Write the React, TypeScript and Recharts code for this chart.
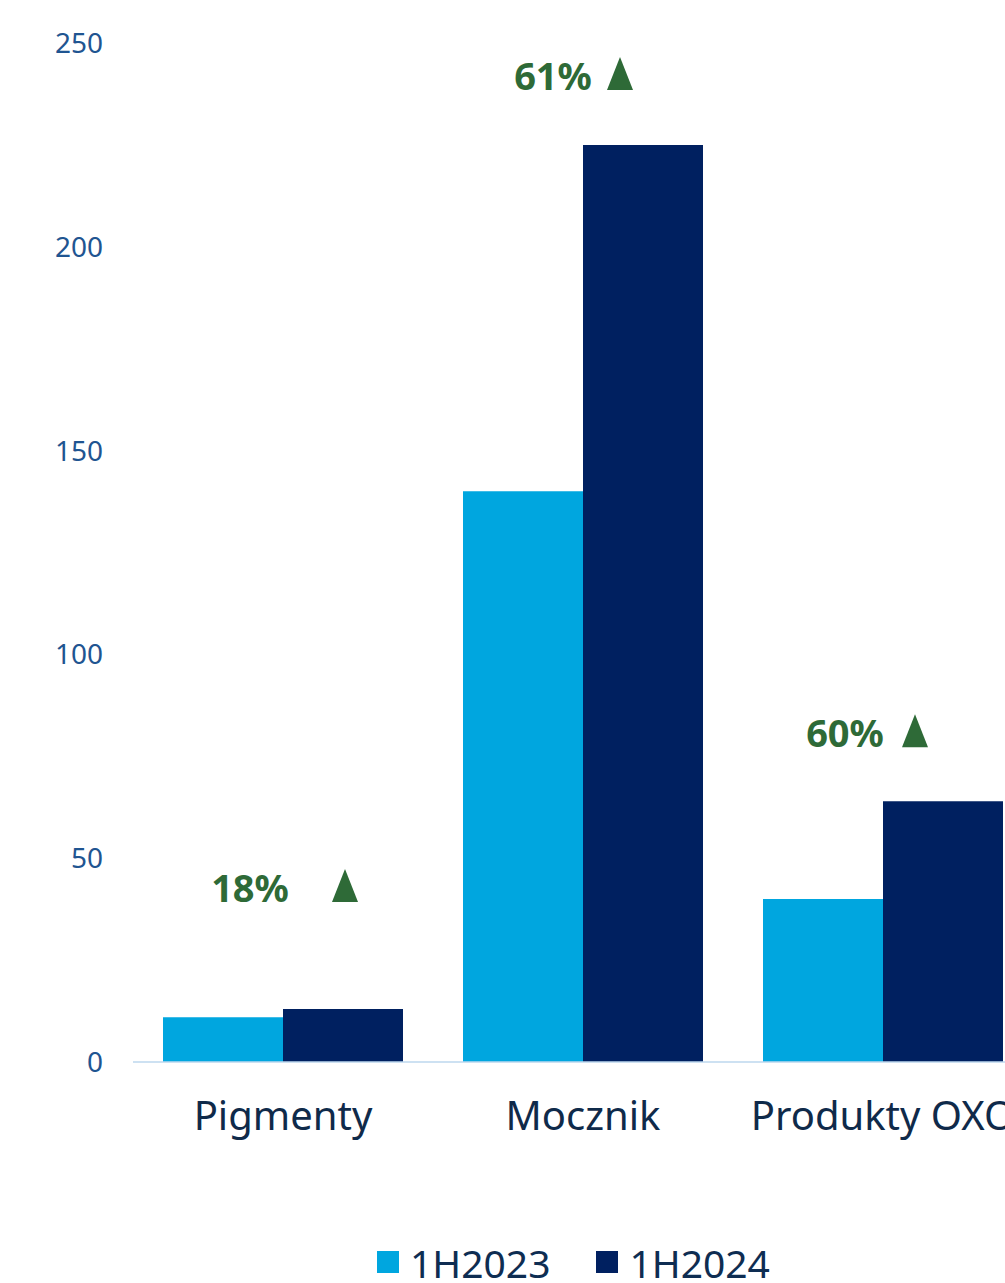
import { BarChart, Bar, XAxis, YAxis, Legend, LabelList } from 'recharts';

const categories = ['Pigmenty', 'Mocznik', 'Produkty OXO'];
const values2023 = [11, 140, 40];
const values2024 = [13, 225, 64];
const growthLabels = ['18%', '61%', '60%'];
const yTicks = [0, 50, 100, 150, 200, 250];

const data = categories.map((cat, i) => ({
  cat,
  h2023: values2023[i],
  h2024: values2024[i],
  growth: growthLabels[i],
}));

const LIGHT = '#00A6DF';
const DARK = '#002060';
const GREEN = '#2E6A37';
const FONT = '"Noto Sans", sans-serif';

// per-category placement of the growth annotation (relative to category centre / bar top)
const labelOffsets = [
  { text: -33, tri: 62, rise: 107 },
  { text: -30, tri: 37, rise: 55 },
  { text: -38, tri: 32, rise: 54 },
];

const GrowthLabel = (props: any) => {
  const { x, y, index, value } = props;
  const o = labelOffsets[index] || labelOffsets[0];
  const base = y - o.rise;
  const tx = x + o.tri;
  return (
    <g>
      <text
        x={x + o.text}
        y={base}
        textAnchor="middle"
        fill={GREEN}
        fontFamily={FONT}
        fontWeight="bold"
        fontSize={38}
      >
        {value}
      </text>
      <path d={`M${tx - 13},${base} L${tx + 13},${base} L${tx},${base - 33} Z`} fill={GREEN} />
    </g>
  );
};

const LegendContent = () => (
  <div
    style={{
      display: 'flex',
      alignItems: 'center',
      paddingLeft: 377,
      paddingTop: 38,
      boxSizing: 'border-box',
      height: 80,
      fontFamily: FONT,
    }}
  >
    {[
      { name: '1H2023', color: LIGHT },
      { name: '1H2024', color: DARK },
    ].map((it, i) => (
      <div key={it.name} style={{ display: 'flex', alignItems: 'center', marginLeft: i ? 46 : 0 }}>
        <span style={{ width: 22, height: 22, background: it.color, display: 'inline-block', marginRight: 11 }} />
        <span style={{ fontSize: 39, color: '#0E2D52', lineHeight: 1 }}>{it.name}</span>
      </div>
    ))}
  </div>
);

export default function App() {
  return (
    <div style={{ position: 'absolute', left: 0, top: 0, width: 1005, height: 1283, overflow: 'hidden', background: '#fff' }}>
      <BarChart
        width={1040}
        height={1283}
        data={data}
        margin={{ top: 43, right: 7, left: 0, bottom: 0 }}
        barGap={0}
        barCategoryGap={30}
      >
        <XAxis
          dataKey="cat"
          axisLine={{ stroke: '#BDD7EE', strokeWidth: 1.5 }}
          tickLine={false}
          tickSize={0}
          tickMargin={40}
          height={141}
          tick={{ fill: '#0F2A4A', fontSize: 40, fontFamily: FONT }}
          interval={0}
        />
        <YAxis
          domain={[0, 250]}
          ticks={yTicks}
          axisLine={false}
          tickLine={false}
          tickSize={0}
          tickMargin={30}
          width={133}
          tick={{ fill: '#1F5591', fontSize: 28, fontFamily: FONT }}
        />
        <Legend verticalAlign="bottom" height={80} content={<LegendContent />} />
        <Bar dataKey="h2023" name="1H2023" fill={LIGHT} isAnimationActive={false} />
        <Bar dataKey="h2024" name="1H2024" fill={DARK} isAnimationActive={false}>
          <LabelList dataKey="growth" content={<GrowthLabel />} />
        </Bar>
      </BarChart>
    </div>
  );
}
